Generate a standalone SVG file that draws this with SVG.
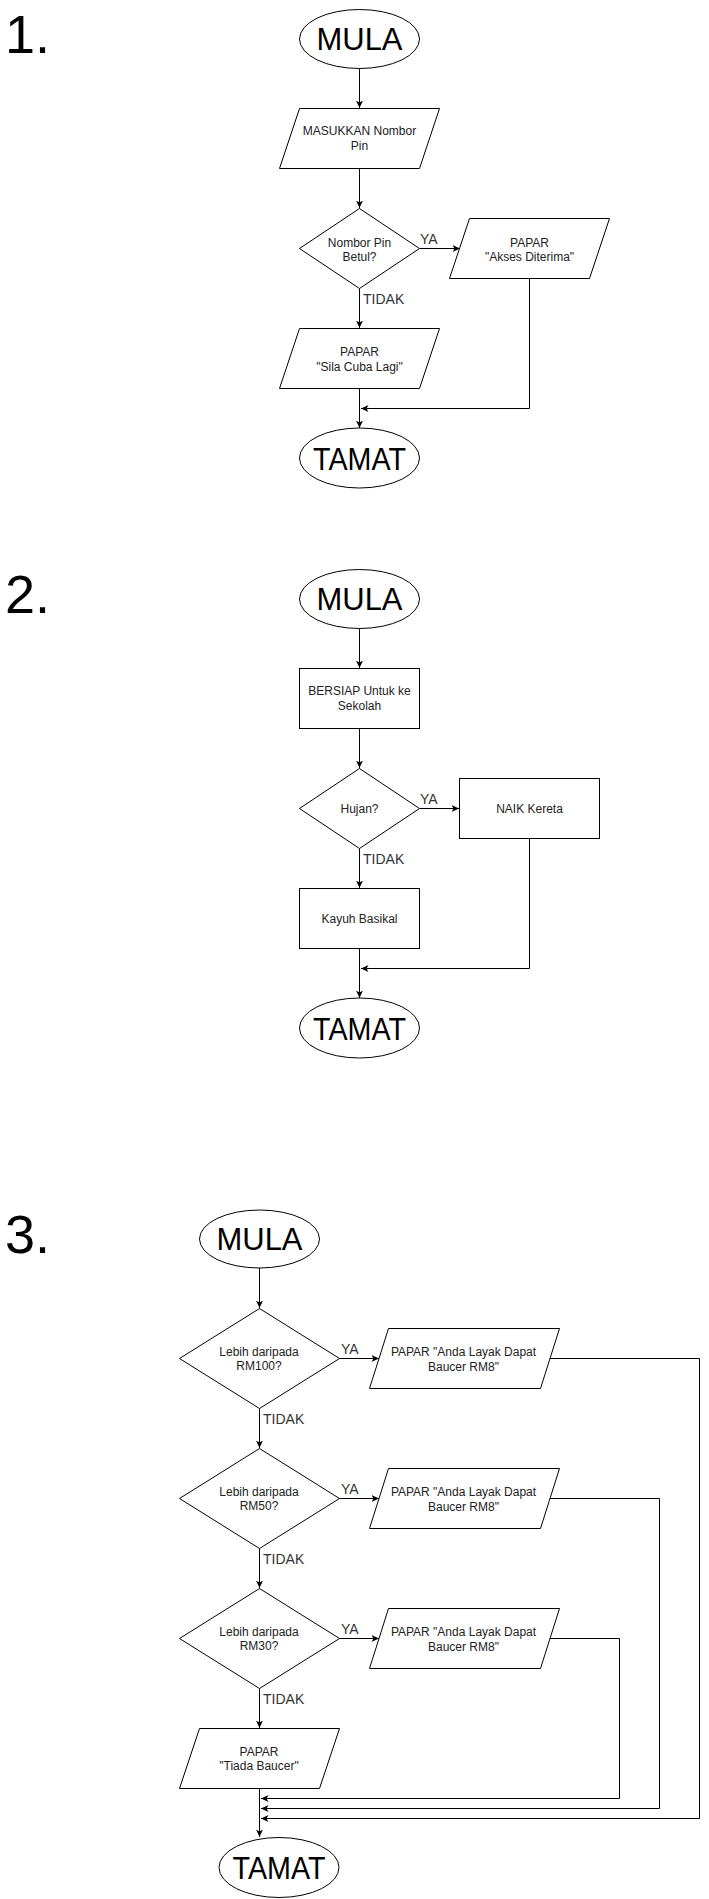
<svg xmlns="http://www.w3.org/2000/svg" width="709" height="1899" viewBox="0 0 709 1899">
<style>
  .bg { fill: #ffffff; }
  .shape { fill: #ffffff; stroke: #000000; stroke-width: 1; }
  .conn { fill: none; stroke: #000000; stroke-width: 1; }
  .big { font-family: "Liberation Sans", Arial, Helvetica, sans-serif; font-size: 32px; fill: #000000; text-anchor: middle; }
  .num { font-family: "Liberation Sans", Arial, Helvetica, sans-serif; font-size: 54px; fill: #000000; }
  .sm { font-family: "Liberation Sans", Arial, Helvetica, sans-serif; font-size: 12px; fill: #222222; text-anchor: middle; }
  .lbl { font-family: "Liberation Sans", Arial, Helvetica, sans-serif; font-size: 14px; fill: #333333; }
</style>
<defs>
  <marker id="ah" viewBox="0 0 8 8" refX="7.5" refY="4" markerWidth="8" markerHeight="8" markerUnits="userSpaceOnUse" orient="auto">
    <path d="M0,0.5 L7.5,4 L0,7.5 L2,4 Z" fill="#000000"/>
  </marker>
</defs>
<rect class="bg" x="0" y="0" width="709" height="1899"/>

<g id="titles">
  <text class="num" x="5" y="53">1.</text>
  <text class="num" x="5" y="613">2.</text>
  <text class="num" x="5" y="1253">3.</text>
</g>

<g id="connectors">
  <!-- chart 1 -->
  <path class="conn" d="M359.5,68.5 V108" marker-end="url(#ah)"/>
  <path class="conn" d="M359.5,168.5 V208" marker-end="url(#ah)"/>
  <path class="conn" d="M419.5,248.5 H460" marker-end="url(#ah)"/>
  <path class="conn" d="M359.5,288.5 V328" marker-end="url(#ah)"/>
  <path class="conn" d="M529.5,278.5 V408.5 H361" marker-end="url(#ah)"/>
  <path class="conn" d="M359.5,388.5 V428" marker-end="url(#ah)"/>
  <text class="lbl" x="420" y="243.5">YA</text>
  <text class="lbl" x="363" y="304">TIDAK</text>
  <!-- chart 2 -->
  <path class="conn" d="M359.5,628.5 V668" marker-end="url(#ah)"/>
  <path class="conn" d="M359.5,728.5 V768" marker-end="url(#ah)"/>
  <path class="conn" d="M419.5,808.5 H459" marker-end="url(#ah)"/>
  <path class="conn" d="M359.5,848.5 V888" marker-end="url(#ah)"/>
  <path class="conn" d="M529.5,838.5 V968.5 H361" marker-end="url(#ah)"/>
  <path class="conn" d="M359.5,948.5 V998" marker-end="url(#ah)"/>
  <text class="lbl" x="420" y="803.5">YA</text>
  <text class="lbl" x="363" y="864">TIDAK</text>
  <!-- chart 3 -->
  <path class="conn" d="M259.5,1268 V1308" marker-end="url(#ah)"/>
  <path class="conn" d="M339.5,1358.5 H379" marker-end="url(#ah)"/>
  <path class="conn" d="M259.5,1408.5 V1448" marker-end="url(#ah)"/>
  <path class="conn" d="M339.5,1498.5 H379" marker-end="url(#ah)"/>
  <path class="conn" d="M259.5,1548.5 V1588" marker-end="url(#ah)"/>
  <path class="conn" d="M339.5,1638.5 H379" marker-end="url(#ah)"/>
  <path class="conn" d="M259.5,1688.5 V1728" marker-end="url(#ah)"/>
  <path class="conn" d="M550,1358.5 H699.5 V1818.5 H261" marker-end="url(#ah)"/>
  <path class="conn" d="M550,1498.5 H659.5 V1808.5 H261" marker-end="url(#ah)"/>
  <path class="conn" d="M550,1638.5 H619.5 V1798.5 H261" marker-end="url(#ah)"/>
  <path class="conn" d="M259.5,1788.5 V1837" marker-end="url(#ah)"/>
  <text class="lbl" x="341" y="1353.5">YA</text>
  <text class="lbl" x="341" y="1493.5">YA</text>
  <text class="lbl" x="341" y="1633.5">YA</text>
  <text class="lbl" x="263" y="1424">TIDAK</text>
  <text class="lbl" x="263" y="1564">TIDAK</text>
  <text class="lbl" x="263" y="1704">TIDAK</text>
</g>

<!-- chart 1 nodes -->
<g id="c1-mula">
  <ellipse class="shape" cx="359.5" cy="39" rx="60" ry="29.5"/>
  <text class="big" x="359.5" y="50" textLength="86" lengthAdjust="spacingAndGlyphs">MULA</text>
</g>
<g id="c1-input">
  <polygon class="shape" points="299.5,108.5 439.5,108.5 419.5,168.5 279.5,168.5"/>
  <text class="sm"><tspan x="359.5" y="135">MASUKKAN Nombor</tspan><tspan x="359.5" y="149.5">Pin</tspan></text>
</g>
<g id="c1-decision">
  <polygon class="shape" points="359.5,208.5 419.5,248.5 359.5,288.5 299.5,248.5"/>
  <text class="sm"><tspan x="359.5" y="246.5">Nombor Pin</tspan><tspan x="359.5" y="261">Betul?</tspan></text>
</g>
<g id="c1-yes">
  <polygon class="shape" points="469.5,218.5 609.5,218.5 589.5,278.5 449.5,278.5"/>
  <text class="sm"><tspan x="529.5" y="246.5">PAPAR</tspan><tspan x="529.5" y="261">"Akses Diterima"</tspan></text>
</g>
<g id="c1-no">
  <polygon class="shape" points="299.5,328.5 439.5,328.5 419.5,388.5 279.5,388.5"/>
  <text class="sm"><tspan x="359.5" y="356">PAPAR</tspan><tspan x="359.5" y="370.5">"Sila Cuba Lagi"</tspan></text>
</g>
<g id="c1-tamat">
  <ellipse class="shape" cx="359.5" cy="458" rx="60" ry="30"/>
  <text class="big" x="359.5" y="470" textLength="93" lengthAdjust="spacingAndGlyphs">TAMAT</text>
</g>

<!-- chart 2 nodes -->
<g id="c2-mula">
  <ellipse class="shape" cx="359.5" cy="599" rx="60" ry="29.5"/>
  <text class="big" x="359.5" y="610" textLength="86" lengthAdjust="spacingAndGlyphs">MULA</text>
</g>
<g id="c2-bersiap">
  <rect class="shape" x="299.5" y="668.5" width="120" height="60"/>
  <text class="sm"><tspan x="359.5" y="695">BERSIAP Untuk ke</tspan><tspan x="359.5" y="709.5">Sekolah</tspan></text>
</g>
<g id="c2-decision">
  <polygon class="shape" points="359.5,768.5 419.5,808.5 359.5,848.5 299.5,808.5"/>
  <text class="sm" x="359.5" y="812.5">Hujan?</text>
</g>
<g id="c2-yes">
  <rect class="shape" x="459.5" y="778.5" width="140" height="60"/>
  <text class="sm" x="529.5" y="812.5">NAIK Kereta</text>
</g>
<g id="c2-no">
  <rect class="shape" x="299.5" y="888.5" width="120" height="60"/>
  <text class="sm" x="359.5" y="922.5">Kayuh Basikal</text>
</g>
<g id="c2-tamat">
  <ellipse class="shape" cx="359.5" cy="1028" rx="60" ry="30"/>
  <text class="big" x="359.5" y="1040" textLength="93" lengthAdjust="spacingAndGlyphs">TAMAT</text>
</g>

<!-- chart 3 nodes -->
<g id="c3-mula">
  <ellipse class="shape" cx="259.5" cy="1239" rx="60" ry="29"/>
  <text class="big" x="259.5" y="1250" textLength="86" lengthAdjust="spacingAndGlyphs">MULA</text>
</g>
<g id="c3-d100">
  <polygon class="shape" points="259.5,1308.5 339.5,1358.5 259.5,1408.5 179.5,1358.5"/>
  <text class="sm"><tspan x="259" y="1355.5">Lebih daripada</tspan><tspan x="259" y="1370">RM100?</tspan></text>
</g>
<g id="c3-p100">
  <polygon class="shape" points="388.5,1328.5 559.5,1328.5 540.5,1388.5 369.5,1388.5"/>
  <text class="sm"><tspan x="463.5" y="1356">PAPAR "Anda Layak Dapat</tspan><tspan x="463.5" y="1370.5">Baucer RM8"</tspan></text>
</g>
<g id="c3-d50">
  <polygon class="shape" points="259.5,1448.5 339.5,1498.5 259.5,1548.5 179.5,1498.5"/>
  <text class="sm"><tspan x="259" y="1495.5">Lebih daripada</tspan><tspan x="259" y="1510">RM50?</tspan></text>
</g>
<g id="c3-p50">
  <polygon class="shape" points="388.5,1468.5 559.5,1468.5 540.5,1528.5 369.5,1528.5"/>
  <text class="sm"><tspan x="463.5" y="1496">PAPAR "Anda Layak Dapat</tspan><tspan x="463.5" y="1510.5">Baucer RM8"</tspan></text>
</g>
<g id="c3-d30">
  <polygon class="shape" points="259.5,1588.5 339.5,1638.5 259.5,1688.5 179.5,1638.5"/>
  <text class="sm"><tspan x="259" y="1635.5">Lebih daripada</tspan><tspan x="259" y="1650">RM30?</tspan></text>
</g>
<g id="c3-p30">
  <polygon class="shape" points="388.5,1608.5 559.5,1608.5 540.5,1668.5 369.5,1668.5"/>
  <text class="sm"><tspan x="463.5" y="1636">PAPAR "Anda Layak Dapat</tspan><tspan x="463.5" y="1650.5">Baucer RM8"</tspan></text>
</g>
<g id="c3-none">
  <polygon class="shape" points="199.5,1728.5 339.5,1728.5 319.5,1788.5 179.5,1788.5"/>
  <text class="sm"><tspan x="259" y="1755.5">PAPAR</tspan><tspan x="259" y="1770">"Tiada Baucer"</tspan></text>
</g>
<g id="c3-tamat">
  <ellipse class="shape" cx="279" cy="1867.5" rx="60" ry="30"/>
  <text class="big" x="279" y="1879" textLength="93" lengthAdjust="spacingAndGlyphs">TAMAT</text>
</g>
</svg>
